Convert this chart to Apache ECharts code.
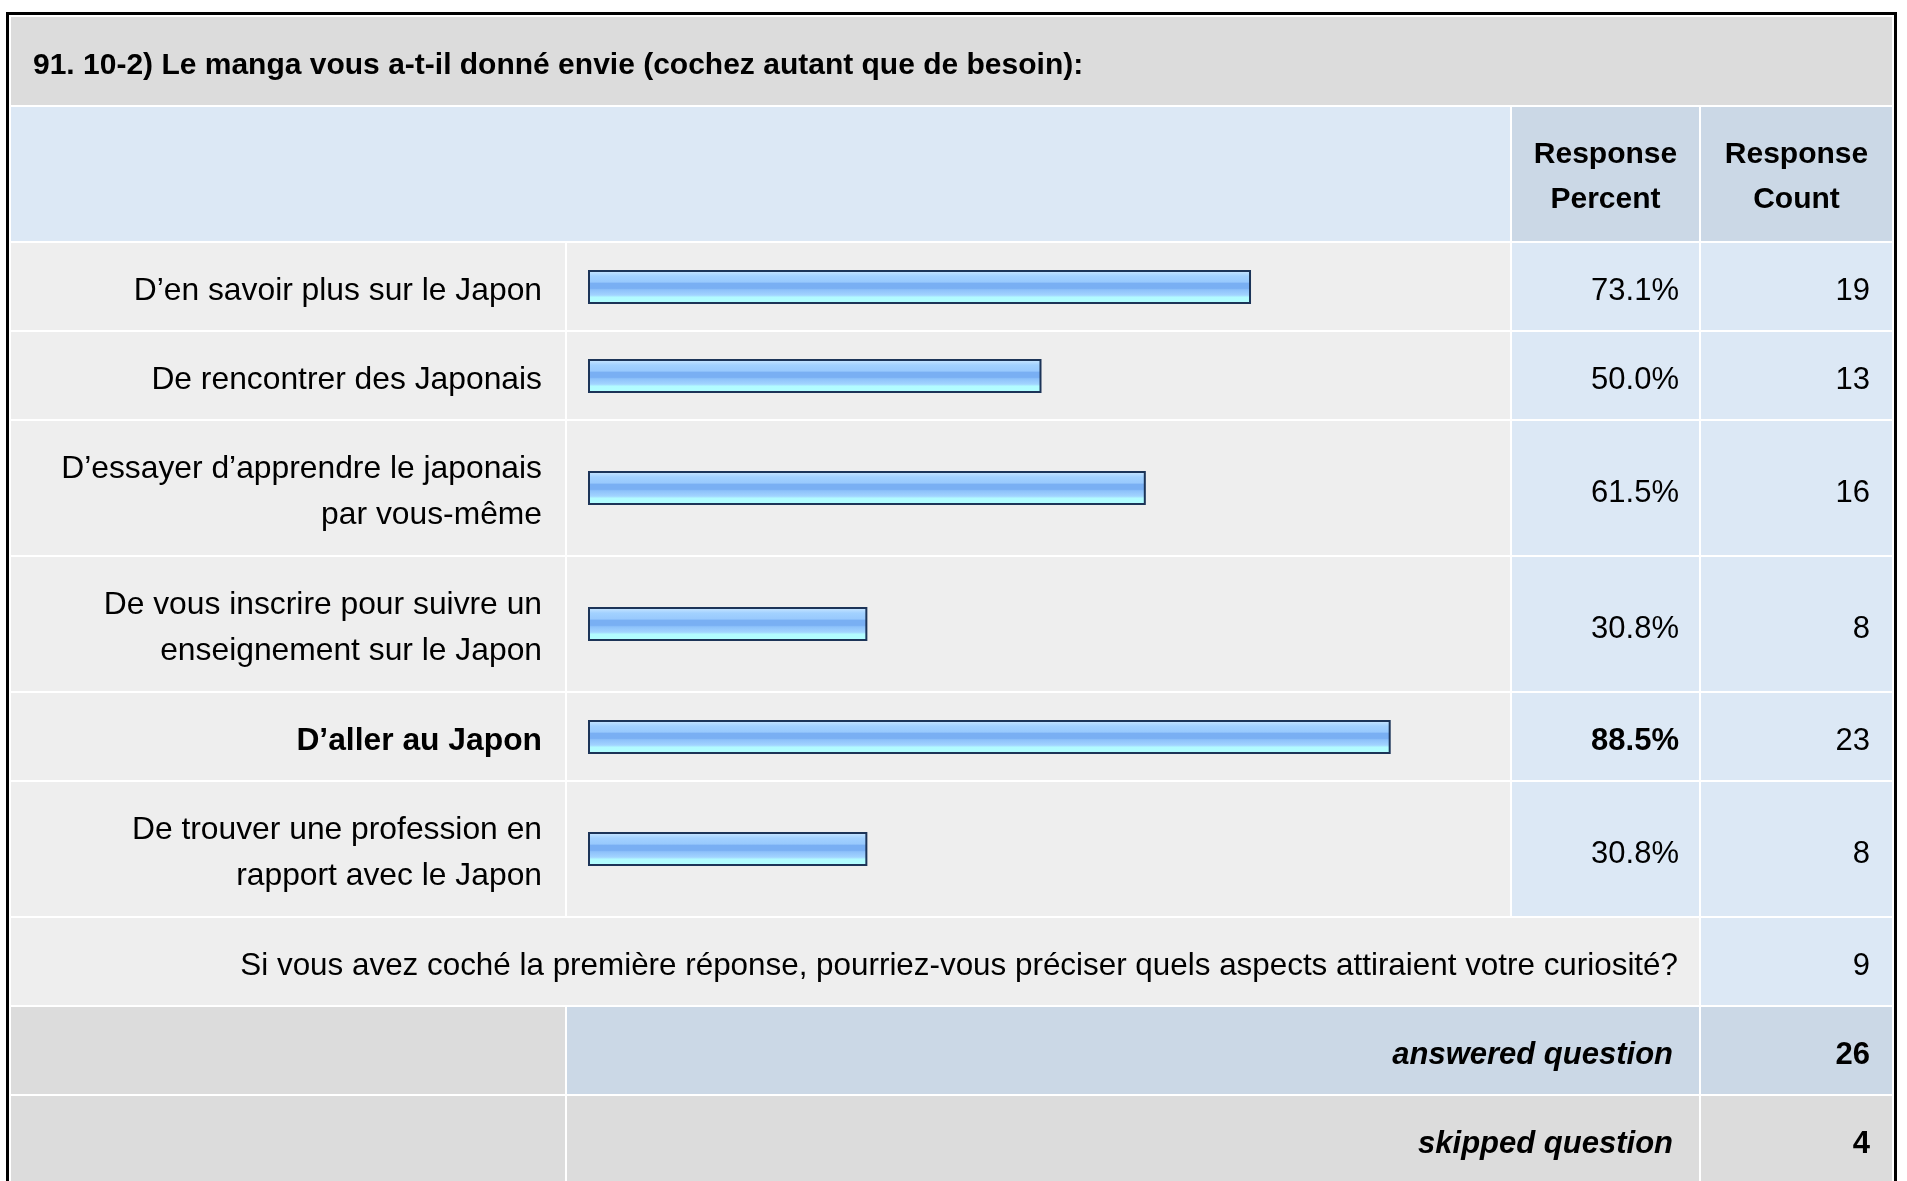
<!DOCTYPE html>
<html>
<head>
<meta charset="utf-8">
<script src="https://cdn.jsdelivr.net/npm/echarts@6/dist/echarts.min.js"></script>
<style>
html,body{margin:0;padding:0;background:#fff;}
#chart{width:1907px;height:1181px;}
</style>
</head>
<body>
<div id="chart"></div>
<script>
// ---------- data ----------
const title = "91. 10-2) Le manga vous a-t-il donné envie (cochez autant que de besoin):";
const headerLabels = ["Response\nPercent", "Response\nCount"];
const categories = [
  "D’en savoir plus sur le Japon",
  "De rencontrer des Japonais",
  "D’essayer d’apprendre le japonais\npar vous-même",
  "De vous inscrire pour suivre un\nenseignement sur le Japon",
  "D’aller au Japon",
  "De trouver une profession en\nrapport avec le Japon"
];
const percents = [73.1, 50.0, 61.5, 30.8, 88.5, 30.8];
const counts = [19, 13, 16, 8, 23, 8];
const otherLabel = "Si vous avez coché la première réponse, pourriez-vous préciser quels aspects attiraient votre curiosité?";
const otherCount = 9;
const summaryLabels = ["answered question", "skipped question"];
const summaryValues = [26, 4];

// ---------- layout ----------
const FONT = "'Liberation Sans', Arial, Helvetica, sans-serif";
const TXT = '#000';
const C0 = [11, 565], C1 = [567, 1510], C2 = [1512, 1699], C3 = [1701, 1892];
const GAP = 2;
const BAR_LEFT = 588, BAR_FULL = 907, BAR_H = 36;
const maxIdx = percents.indexOf(Math.max.apply(null, percents));

const graphics = [];
function rect(x0, x1, y0, y1, fill, z) {
  graphics.push({type: 'rect', z: z || -50, silent: true,
    shape: {x: x0, y: y0, width: x1 - x0, height: y1 - y0}, style: {fill: fill}});
}
function text(str, x, y, align, opts) {
  opts = opts || {};
  graphics.push({type: 'text', z: 50, silent: true, x: x, y: y,
    style: {text: str, fill: TXT, font: (opts.style || 'normal') + ' ' + (opts.weight || 'normal') + ' ' + (opts.size || 31) + 'px ' + FONT,
      textAlign: align, textVerticalAlign: 'middle', lineHeight: opts.lh || 46}});
}

// outer frame
rect(6, 1897, 12, 1240, '#000', -100);
rect(9, 1894, 15, 1240, '#fff', -90);

// title band
rect(11, 1892, 17, 105, '#dcdcdc');
text(title, 33, 66, 'left', {weight: 'bold', size: 30});

// header
rect(11, 1510, 107, 241, '#dce8f5');
rect(C2[0], C2[1], 107, 241, '#cbd8e6');
rect(C3[0], C3[1], 107, 241, '#cbd8e6');
text(headerLabels[0], (C2[0] + C2[1]) / 2, 177.5, 'center', {weight: 'bold', size: 30, lh: 45});
text(headerLabels[1], (C3[0] + C3[1]) / 2, 177.5, 'center', {weight: 'bold', size: 30, lh: 45});

// data rows
let y = 243;
const grids = [], xAxes = [], yAxes = [], series = [];
categories.forEach(function (cat, i) {
  const h = cat.indexOf('\n') >= 0 ? 134 : 87;
  const y0 = y, y1 = y + h, cy = (y0 + y1) / 2;
  rect(C0[0], C0[1], y0, y1, '#eeeeee');
  rect(C1[0], C1[1], y0, y1, '#eeeeee');
  rect(C2[0], C2[1], y0, y1, '#dce8f5');
  rect(C3[0], C3[1], y0, y1, '#dce8f5');
  const bold = i === maxIdx;
  text(percents[i].toFixed(1) + '%', 1679, cy + 5, 'right', {weight: bold ? 'bold' : 'normal'});
  text(String(counts[i]), 1870, cy + 5, 'right', {});
  grids.push({left: BAR_LEFT, width: BAR_FULL, top: Math.round(cy - BAR_H / 2), height: BAR_H, containLabel: false});
  xAxes.push({type: 'value', gridIndex: i, min: 0, max: 100, show: false});
  yAxes.push({type: 'category', gridIndex: i, data: [cat], z: 20,
    axisLine: {show: false}, axisTick: {show: false}, splitLine: {show: false},
    axisLabel: {align: 'right', margin: 46, fontSize: 31.8, lineHeight: 46, color: TXT,
      fontFamily: FONT, fontWeight: bold ? 'bold' : 'normal',
      formatter: function (v) { return '{pad|}\n' + v; },
      rich: {pad: {lineHeight: 9, height: 9, fontSize: 1}}}});
  series.push({type: 'bar', xAxisIndex: i, yAxisIndex: i, data: [percents[i]], barWidth: BAR_H - 2,
    silent: true, animation: false, z: 20,
    itemStyle: {borderColor: '#1c3458', borderWidth: 2,
      color: {type: 'linear', x: 0, y: 0, x2: 0, y2: 1, colorStops: [
        {offset: 0, color: '#d2eaff'},
        {offset: 0.1, color: '#b6dcff'},
        {offset: 0.18, color: '#a2d1ff'},
        {offset: 0.36, color: '#98c9fd'},
        {offset: 0.38, color: '#79aff3'},
        {offset: 0.54, color: '#79aff3'},
        {offset: 0.58, color: '#8dc1fa'},
        {offset: 0.74, color: '#a2d4ff'},
        {offset: 0.8, color: '#b2fbff'},
        {offset: 1, color: '#b2ffff'}
      ]}}});
  y = y1 + GAP;
});

// other row
{
  const y0 = y, y1 = y + 87, cy = (y0 + y1) / 2;
  rect(C0[0], C2[1], y0, y1, '#eeeeee');
  rect(C3[0], C3[1], y0, y1, '#dce8f5');
  text(otherLabel, 1678, cy + 5, 'right', {size: 31.4});
  text(String(otherCount), 1870, cy + 5, 'right', {});
  y = y1 + GAP;
}
// summary rows
summaryLabels.forEach(function (lab, k) {
  const y0 = y, y1 = y + 87, cy = (y0 + y1) / 2;
  rect(C0[0], C0[1], y0, y1, '#dcdcdc');
  rect(C1[0], C2[1], y0, y1, k === 0 ? '#cbd8e6' : '#dcdcdc');
  rect(C3[0], C3[1], y0, y1, k === 0 ? '#cbd8e6' : '#dcdcdc');
  text(lab, 1673, cy + 5, 'right', {weight: 'bold', style: 'italic'});
  text(String(summaryValues[k]), 1870, cy + 5, 'right', {weight: 'bold'});
  y = y1 + GAP;
});

const chart = echarts.init(document.getElementById('chart'), null, {renderer: 'canvas'});
chart.setOption({
  animation: false,
  backgroundColor: '#ffffff',
  graphic: {elements: graphics},
  grid: grids,
  xAxis: xAxes,
  yAxis: yAxes,
  series: series
});
</script>
</body>
</html>
